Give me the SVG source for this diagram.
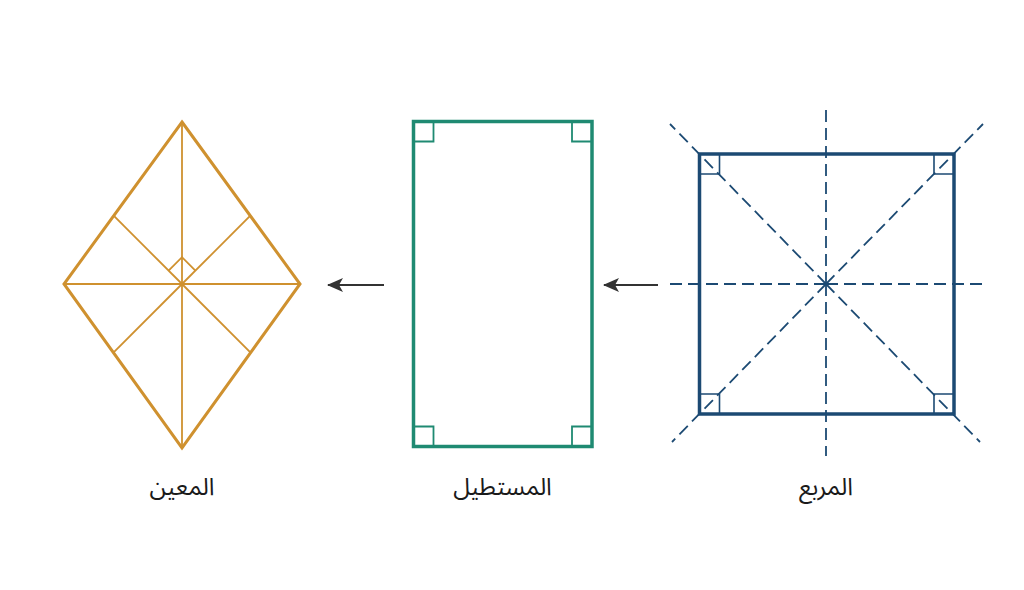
<svg xmlns="http://www.w3.org/2000/svg" width="1024" height="590" viewBox="0 0 1024 590">
<defs>
<style>
.lbl{font-family:"Noto Sans Arabic","Noto Sans","DejaVu Sans",sans-serif;font-size:24px;fill:#1a1a1a;text-anchor:middle}
.sq{fill:none;stroke:#1c4a73;stroke-width:3.5}
.sqm{fill:none;stroke:#1c4a73;stroke-width:1.6}
.dash{fill:none;stroke:#1c4a73;stroke-width:1.8;stroke-dasharray:12 6}
.rc{fill:none;stroke:#1f8a72;stroke-width:3.5}
.rcm{fill:none;stroke:#1f8a72;stroke-width:1.8}
.rh{fill:none;stroke:#cf912f;stroke-width:3;stroke-linejoin:miter}
.rhi{fill:none;stroke:#cf912f;stroke-width:1.8}
.arr{stroke:#333;stroke-width:2.2}
</style>
<marker id="ah" viewBox="0 0 16 14" refX="15" refY="7" markerWidth="16" markerHeight="14" markerUnits="userSpaceOnUse" orient="auto">
<path d="M16,7 L0,0 L4,7 L0,14 Z" fill="#333"/>
</marker>
</defs>
<rect width="1024" height="590" fill="#ffffff"/>

<g id="rhombus">
<line class="rhi" x1="182" y1="122" x2="182" y2="448"/>
<line class="rhi" x1="64" y1="284" x2="300" y2="284"/>
<line class="rhi" x1="182" y1="284" x2="113.4" y2="215.4"/>
<line class="rhi" x1="182" y1="284" x2="250.6" y2="215.4"/>
<line class="rhi" x1="182" y1="284" x2="113.4" y2="352.6"/>
<line class="rhi" x1="182" y1="284" x2="250.6" y2="352.6"/>
<path class="rhi" d="M168.6,270.6 L182,257.2 L195.4,270.6"/>
<polygon class="rh" points="182,122 300,284 182,448 64,284"/>
<text class="lbl" x="182" y="495">المعين</text>
</g>

<g id="rectangle">
<rect class="rc" x="413.5" y="121.5" width="178.5" height="325"/>
<path class="rcm" d="M413.5,141.5 H433.5 V121.5 M572,121.5 V141.5 H592 M413.5,426.5 H433.5 V446.5 M572,446.5 V426.5 H592"/>
<text class="lbl" x="502.5" y="495">المستطيل</text>
</g>

<g id="square">
<line class="dash" x1="826" y1="284" x2="826" y2="110"/>
<line class="dash" x1="826" y1="284" x2="826" y2="456"/>
<line class="dash" x1="826" y1="284" x2="664" y2="284"/>
<line class="dash" x1="826" y1="284" x2="988" y2="284"/>
<line class="dash" x1="826" y1="284" x2="670" y2="124"/>
<line class="dash" x1="826" y1="284" x2="983" y2="124"/>
<line class="dash" x1="826" y1="284" x2="672" y2="442"/>
<line class="dash" x1="826" y1="284" x2="980" y2="442"/>
<rect class="sq" x="699.5" y="154" width="254.5" height="260"/>
<path class="sqm" d="M699.5,174 H719.5 V154 M934,154 V174 H954 M699.5,394 H719.5 V414 M934,414 V394 H954"/>
<text class="lbl" x="826" y="495">المربع</text>
</g>

<g id="connectors">
<line class="arr" x1="384" y1="285" x2="328" y2="285" marker-end="url(#ah)"/>
<line class="arr" x1="658" y1="285" x2="604" y2="285" marker-end="url(#ah)"/>
</g>
</svg>
